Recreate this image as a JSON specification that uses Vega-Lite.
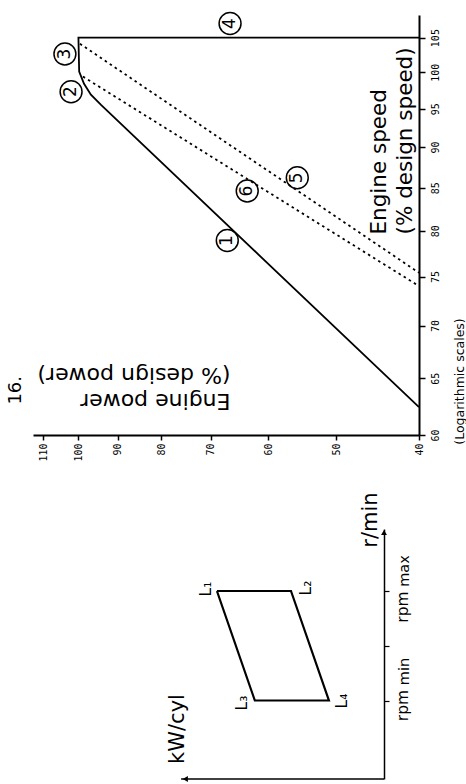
{
  "$schema": "https://vega.github.io/schema/vega-lite/v6.json",
  "padding": {"left": 6, "top": 9, "right": 0, "bottom": 0},
  "background": "white",
  "spacing": 94,
  "bounds": "flush",
  "config": {"view": {"stroke": null}, "font": "DejaVu Sans", "text": {"color": "black"}},
  "datasets": {
    "envelope": [
      {"power": 40, "speed": 105.0},
      {"power": 100, "speed": 105.0},
      {"power": 99.8, "speed": 100.1},
      {"power": 98.5, "speed": 98.4},
      {"power": 96.7, "speed": 96.9},
      {"power": 94.1, "speed": 95.5},
      {"power": 40, "speed": 62.4}
    ],
    "dashed": [
      {"line": "5", "power": 99.6, "speed": 104.1},
      {"line": "5", "power": 40, "speed": 75.4},
      {"line": "6", "power": 98.8, "speed": 99.4},
      {"line": "6", "power": 40, "speed": 74.0}
    ],
    "markers": [
      {"label": "1", "power": 67.0, "speed": 78.9},
      {"label": "2", "power": 102.0, "speed": 97.3},
      {"label": "3", "power": 103.7, "speed": 102.6},
      {"label": "4", "power": 66.5, "speed": 107.1},
      {"label": "5", "power": 55.5, "speed": 86.2},
      {"label": "6", "power": 63.5, "speed": 84.6}
    ],
    "fignum": [{"text": "16.", "power": 118.3, "speed": 63.9}],
    "scalenote": [{"text": "(Logarithmic scales)", "power": 35.8, "speed": 64.7}],
    "frame": [
      {"corner": "L1", "kw": 47.6, "rpm": 75.2},
      {"corner": "L2", "kw": 26.5, "rpm": 75.2},
      {"corner": "L4", "kw": 15.7, "rpm": 31.4},
      {"corner": "L3", "kw": 36.8, "rpm": 31.4},
      {"corner": "L1", "kw": 47.6, "rpm": 75.2}
    ],
    "baseline": [{"kw": 0, "kw_end": 57.8, "rpm": 0}],
    "arrows": [
      {"dir": "up", "kw": 0, "rpm": 98.6},
      {"dir": "left", "kw": 56.6, "rpm": 0}
    ],
    "inset_titles": [
      {"text": "kW/cyl", "kw": 58.7, "rpm": 20},
      {"text": "r/min", "kw": 3.7, "rpm": 103.6}
    ],
    "inset_labels": [
      {"text": "L₁", "kw": 50.7, "rpm": 76.0},
      {"text": "L₂", "kw": 22.2, "rpm": 76.4},
      {"text": "L₃", "kw": 40.5, "rpm": 30.4},
      {"text": "L₄", "kw": 12.0, "rpm": 31.2},
      {"text": "rpm", "kw": -5.4, "rpm": 29.4},
      {"text": "rpm", "kw": -5.4, "rpm": 68.8}
    ],
    "inset_subs": [
      {"text": "min", "kw": -6.0, "rpm": 43.0},
      {"text": "max", "kw": -6.0, "rpm": 83.2}
    ]
  },
  "vconcat": [
    {
      "width": 386,
      "height": 420,
      "layer": [
        {
          "data": {"name": "envelope"},
          "mark": {"type": "line", "color": "black", "strokeWidth": 1.8},
          "encoding": {
            "x": {
              "field": "power", "type": "quantitative",
              "scale": {"type": "log", "domain": [40, 113], "reverse": true, "nice": false},
              "axis": {
                "values": [40, 50, 60, 70, 80, 90, 100, 110],
                "format": "d",
                "labelAngle": -90, "labelAlign": "right", "labelBaseline": "middle",
                "labelFont": "DejaVu Sans Mono", "labelFontSize": 10, "labelColor": "black",
                "labelPadding": 3, "labelOverlap": false, "labelFlush": false, "labelBound": false,
                "tickSize": 5, "tickColor": "black", "tickWidth": 1.5,
                "domainColor": "black", "domainWidth": 2, "grid": false,
                "title": ["Engine power", "(% design power)"],
                "titleAngle": 180, "titleAlign": "left", "titleBaseline": "middle",
                "titleFont": "DejaVu Sans", "titleFontSize": 22, "titleFontWeight": "normal",
                "titleColor": "black", "titleLineHeight": 26, "titleX": 197, "titleY": -35
              }
            },
            "y": {
              "field": "speed", "type": "quantitative",
              "scale": {"type": "log", "domain": [60, 108.4], "nice": false},
              "axis": {
                "orient": "right",
                "values": [60, 65, 70, 75, 80, 85, 90, 95, 100, 105],
                "format": "d",
                "labelAngle": -90, "labelAlign": "center", "labelBaseline": "top",
                "labelFont": "DejaVu Sans Mono", "labelFontSize": 10, "labelColor": "black",
                "labelPadding": 5, "labelOverlap": false, "labelFlush": false, "labelBound": false,
                "tickSize": 6, "tickColor": "black", "tickWidth": 1.5,
                "domainColor": "black", "domainWidth": 2, "grid": false,
                "title": ["Engine speed", "(% design speed)"],
                "titleAngle": -90, "titleAlign": "left", "titleBaseline": "middle",
                "titleFont": "DejaVu Sans", "titleFontSize": 21.5, "titleFontWeight": "normal",
                "titleColor": "black", "titleLineHeight": 26, "titleX": -40, "titleY": 219
              }
            },
            "order": {"value": null}
          }
        },
        {
          "data": {"name": "dashed"},
          "mark": {"type": "line", "color": "black", "strokeWidth": 1.8, "strokeDash": [2.5, 3.5]},
          "encoding": {
            "x": {"field": "power", "type": "quantitative"},
            "y": {"field": "speed", "type": "quantitative"},
            "detail": {"field": "line", "type": "nominal"}
          }
        },
        {
          "data": {"name": "markers"},
          "mark": {"type": "point", "shape": "circle", "size": 480, "filled": false, "color": "black", "strokeWidth": 1.5, "opacity": 1},
          "encoding": {
            "x": {"field": "power", "type": "quantitative"},
            "y": {"field": "speed", "type": "quantitative"}
          }
        },
        {
          "data": {"name": "markers"},
          "mark": {"type": "text", "angle": -90, "fontSize": 17, "font": "DejaVu Sans", "align": "center", "baseline": "middle"},
          "encoding": {
            "x": {"field": "power", "type": "quantitative"},
            "y": {"field": "speed", "type": "quantitative"},
            "text": {"field": "label"}
          }
        },
        {
          "data": {"name": "fignum"},
          "mark": {"type": "text", "angle": -90, "fontSize": 18, "font": "DejaVu Sans", "align": "center", "baseline": "middle"},
          "encoding": {
            "x": {"field": "power", "type": "quantitative"},
            "y": {"field": "speed", "type": "quantitative"},
            "text": {"field": "text"}
          }
        },
        {
          "data": {"name": "scalenote"},
          "mark": {"type": "text", "angle": -90, "fontSize": 12.5, "font": "DejaVu Sans", "align": "center", "baseline": "middle"},
          "encoding": {
            "x": {"field": "power", "type": "quantitative"},
            "y": {"field": "speed", "type": "quantitative"},
            "text": {"field": "text"}
          }
        }
      ]
    },
    {
      "width": 351,
      "height": 250,
      "layer": [
        {
          "data": {"name": "frame"},
          "mark": {"type": "line", "color": "black", "strokeWidth": 2.2},
          "encoding": {
            "x": {
              "field": "kw", "type": "quantitative",
              "scale": {"domain": [0, 100], "reverse": true, "nice": false, "zero": false},
              "axis": null
            },
            "y": {
              "field": "rpm", "type": "quantitative",
              "scale": {"domain": [0, 100], "nice": false, "zero": false},
              "axis": {
                "orient": "right", "values": [31.4, 53.2, 75.2], "labels": false,
                "ticks": true, "tickSize": 5, "tickColor": "black", "tickWidth": 1.2,
                "domainColor": "black", "domainWidth": 1.5, "grid": false, "title": null
              }
            },
            "order": {"value": null}
          }
        },
        {
          "data": {"name": "baseline"},
          "mark": {"type": "rule", "color": "black", "strokeWidth": 1.5},
          "encoding": {
            "x": {"field": "kw", "type": "quantitative"},
            "x2": {"field": "kw_end"},
            "y": {"field": "rpm", "type": "quantitative"}
          }
        },
        {
          "data": {"name": "arrows"},
          "mark": {"type": "point", "filled": true, "size": 35, "color": "black", "opacity": 1},
          "encoding": {
            "x": {"field": "kw", "type": "quantitative"},
            "y": {"field": "rpm", "type": "quantitative"},
            "shape": {"field": "dir", "type": "nominal", "scale": {"domain": ["up", "left"], "range": ["triangle-up", "triangle-left"]}, "legend": null}
          }
        },
        {
          "data": {"name": "inset_titles"},
          "mark": {"type": "text", "angle": -90, "fontSize": 21, "font": "DejaVu Sans", "align": "center", "baseline": "middle"},
          "encoding": {
            "x": {"field": "kw", "type": "quantitative"},
            "y": {"field": "rpm", "type": "quantitative"},
            "text": {"field": "text"}
          }
        },
        {
          "data": {"name": "inset_labels"},
          "mark": {"type": "text", "angle": -90, "fontSize": 15.5, "font": "DejaVu Sans", "align": "center", "baseline": "middle"},
          "encoding": {
            "x": {"field": "kw", "type": "quantitative"},
            "y": {"field": "rpm", "type": "quantitative"},
            "text": {"field": "text"}
          }
        },
        {
          "data": {"name": "inset_subs"},
          "mark": {"type": "text", "angle": -90, "fontSize": 14.5, "font": "DejaVu Sans", "align": "center", "baseline": "middle"},
          "encoding": {
            "x": {"field": "kw", "type": "quantitative"},
            "y": {"field": "rpm", "type": "quantitative"},
            "text": {"field": "text"}
          }
        }
      ]
    }
  ]
}
